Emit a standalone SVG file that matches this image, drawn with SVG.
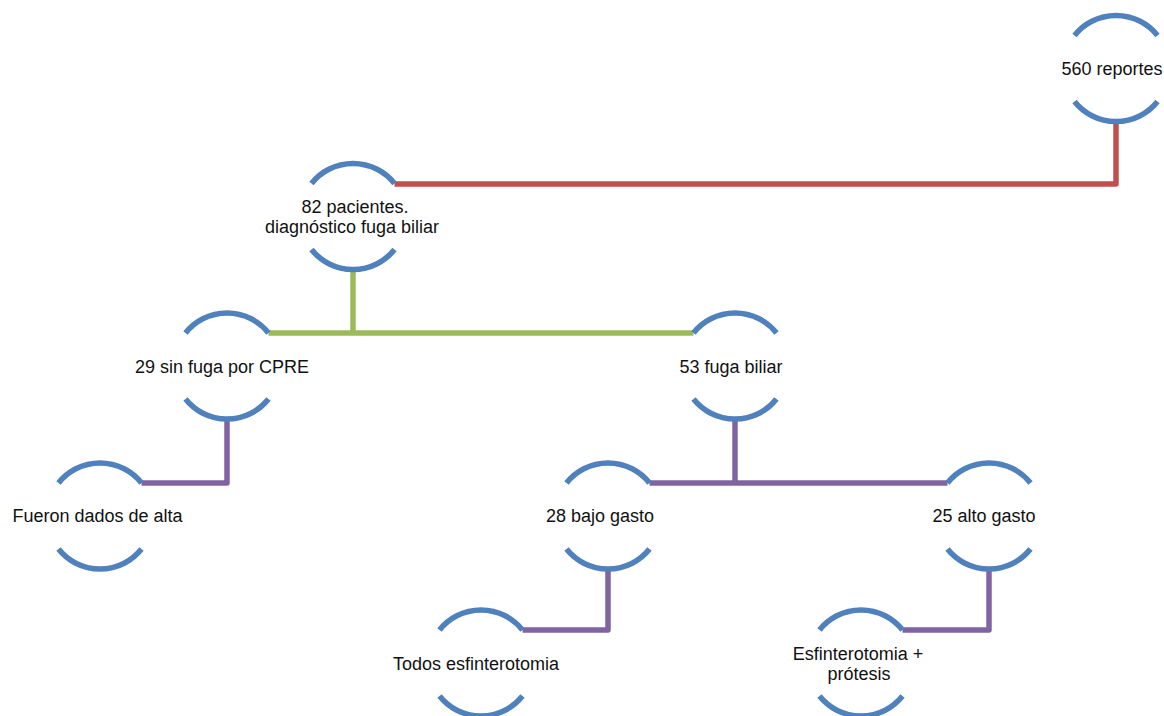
<svg xmlns="http://www.w3.org/2000/svg" xmlns:xlink="http://www.w3.org/1999/xlink" width="1164" height="716" viewBox="0 0 1164 716">
<style>
.arc{fill:none;stroke:#4F81BD;stroke-width:5.5}
.c{fill:none;stroke-width:5.5;stroke-linejoin:round}
.red{stroke:#C0504D}.green{stroke:#9BBB59}.purple{stroke:#8064A2}
text{font-family:"Liberation Sans",Arial,sans-serif;font-size:18px;fill:#111;text-anchor:middle}
</style>
<defs>
<g id="ring"><path class="arc" d="M-41.5 -33 A53 53 0 0 1 41.5 -33"/><path class="arc" d="M-41.5 33 A53 53 0 0 0 41.5 33"/></g>
</defs>
<rect width="1164" height="716" fill="#fff"/>
<g id="connectors">
<path class="c red" d="M1116 121.5 V184 H394.5"/>
<path class="c green" d="M353 269.5 V333"/>
<path class="c green" d="M268.5 333 H693.5"/>
<path class="c purple" d="M227 419 V483 H141.5"/>
<path class="c purple" d="M735 419 V483"/>
<path class="c purple" d="M649.5 483 H947.5"/>
<path class="c purple" d="M608 569 V630 H522.5"/>
<path class="c purple" d="M989 569 V630 H902.5"/>
</g>
<g id="n560"><use xlink:href="#ring" href="#ring" x="1116" y="68.5"/><text x="1112" y="75">560 reportes</text></g>
<g id="n82"><use xlink:href="#ring" href="#ring" x="353" y="216.5"/><text x="355" y="213">82 pacientes.</text><text x="352" y="232.5">diagnóstico fuga biliar</text></g>
<g id="n29"><use xlink:href="#ring" href="#ring" x="227" y="366"/><text x="222" y="372.5">29 sin fuga por CPRE</text></g>
<g id="n53"><use xlink:href="#ring" href="#ring" x="735" y="366"/><text x="731" y="372.5">53 fuga biliar</text></g>
<g id="nalta"><use xlink:href="#ring" href="#ring" x="100" y="516"/><text x="97.5" y="522">Fueron dados de alta</text></g>
<g id="n28"><use xlink:href="#ring" href="#ring" x="608" y="516"/><text x="600" y="522">28 bajo gasto</text></g>
<g id="n25"><use xlink:href="#ring" href="#ring" x="989" y="516"/><text x="984" y="522">25 alto gasto</text></g>
<g id="ntodos"><use xlink:href="#ring" href="#ring" x="481" y="663"/><text x="476" y="669.5">Todos esfinterotomia</text></g>
<g id="nesf"><use xlink:href="#ring" href="#ring" x="861" y="663"/><text x="858" y="660">Esfinterotomia +</text><text x="859" y="680">prótesis</text></g>
</svg>
